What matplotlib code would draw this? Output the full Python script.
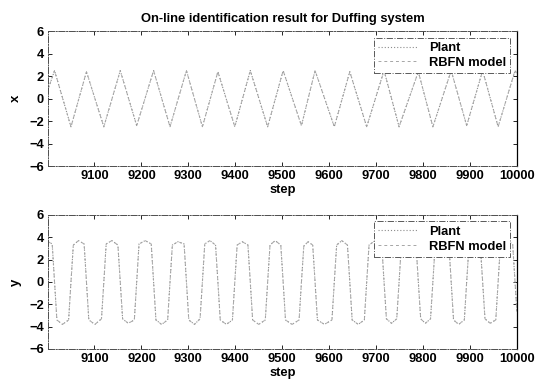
import matplotlib
matplotlib.use("Agg")
import matplotlib.pyplot as plt

plt.rcParams['font.family'] = ['Liberation Sans', 'DejaVu Sans']
plt.rcParams['font.weight'] = 'bold'
plt.rcParams['axes.titleweight'] = 'bold'
plt.rcParams['axes.labelweight'] = 'bold'

# turning points of the state x (steps and values)
x_steps = [9001,
           9015, 9050, 9083, 9120, 9155, 9190, 9226, 9261, 9296, 9330,
           9363, 9399, 9432, 9469, 9502, 9541, 9570, 9611, 9644, 9680,
           9717, 9749, 9790, 9821, 9860, 9893, 9927, 9960, 9996,
           10000]
x_plant = [0.8,
           2.5, -2.5, 2.4, -2.5, 2.5, -2.4, 2.5, -2.5, 2.5, -2.5,
           2.4, -2.5, 2.5, -2.5, 2.5, -2.4, 2.5, -2.5, 2.4, -2.5,
           2.5, -2.5, 2.4, -2.5, 2.5, -2.4, 2.5, -2.5, 2.5,
           2.2]
x_model = list(x_plant)

# corner points of the state y
y_steps = [9001, 9010, 9015,
           9020, 9032, 9045, 9050,
           9055, 9066, 9078, 9083,
           9088, 9101, 9115, 9120,
           9125, 9137, 9150, 9155,
           9160, 9172, 9185, 9190,
           9195, 9208, 9221, 9226,
           9231, 9243, 9256, 9261,
           9266, 9278, 9291, 9296,
           9301, 9313, 9325, 9330,
           9335, 9346, 9358, 9363,
           9368, 9381, 9394, 9399,
           9404, 9415, 9427, 9432,
           9437, 9450, 9464, 9469,
           9474, 9485, 9497, 9502,
           9507, 9521, 9536, 9541,
           9546, 9555, 9565, 9570,
           9575, 9590, 9606, 9611,
           9616, 9627, 9639, 9644,
           9649, 9662, 9675, 9680,
           9685, 9698, 9712, 9717,
           9722, 9733, 9744, 9749,
           9754, 9769, 9785, 9790,
           9795, 9805, 9816, 9821,
           9826, 9840, 9855, 9860,
           9865, 9876, 9888, 9893,
           9898, 9910, 9922, 9927,
           9932, 9943, 9955, 9960,
           9965, 9978, 9991, 9996,
           10000]
y_plant = [3.6, 3.4, 0.0,
           -3.4, -3.8, -3.4, 0.0,
           3.3, 3.7, 3.4, 0.0,
           -3.4, -3.8, -3.3, 0.0,
           3.4, 3.7, 3.3, 0.0,
           -3.3, -3.7, -3.4, 0.0,
           3.4, 3.7, 3.4, 0.0,
           -3.4, -3.8, -3.4, 0.0,
           3.3, 3.6, 3.4, 0.0,
           -3.4, -3.8, -3.3, 0.0,
           3.4, 3.7, 3.3, 0.0,
           -3.4, -3.8, -3.4, 0.0,
           3.3, 3.6, 3.3, 0.0,
           -3.4, -3.8, -3.4, 0.0,
           3.3, 3.7, 3.3, 0.0,
           -3.4, -3.8, -3.4, 0.0,
           3.2, 3.6, 3.3, 0.0,
           -3.4, -3.8, -3.4, 0.0,
           3.3, 3.7, 3.3, 0.0,
           -3.4, -3.8, -3.4, 0.0,
           3.3, 3.7, 3.4, 0.0,
           -3.3, -3.7, -3.3, 0.0,
           3.4, 3.7, 3.4, 0.0,
           -3.3, -3.7, -3.3, 0.0,
           3.4, 3.7, 3.4, 0.0,
           -3.4, -3.8, -3.4, 0.0,
           3.3, 3.7, 3.3, 0.0,
           -3.3, -3.7, -3.4, 0.0,
           3.4, 3.7, 3.4, 0.0,
           -2.7]
y_model = list(y_plant)

xticks = [9100, 9200, 9300, 9400, 9500, 9600, 9700, 9800, 9900, 10000]
yticks = [-6, -4, -2, 0, 2, 4, 6]
series_names = ['Plant', 'RBFN model']

fig = plt.figure(figsize=(5.39, 3.81), dpi=100)
ax1 = fig.add_axes([0.089, 0.564, 0.870, 0.354])
ax2 = fig.add_axes([0.089, 0.084, 0.870, 0.352])

panels = [(ax1, x_steps, x_plant, x_model, 'x'),
          (ax2, y_steps, y_plant, y_model, 'y')]

for ax, steps, plant, model, name in panels:
    ax.plot(steps, plant, color='0.55', lw=0.8, ls=(0, (1, 1.8)),
            label=series_names[0])
    ax.plot(steps, model, color='0.65', lw=0.7, ls=(0, (3, 3)),
            label=series_names[1])
    ax.set_xlim(9001, 10000)
    ax.set_ylim(-6, 6)
    ax.set_xticks(xticks)
    ax.set_yticks(yticks)
    ax.tick_params(direction='in', length=3, width=0.6, labelsize=9.3,
                   pad=3, top=True, right=True, colors='black')
    for side in ['top', 'left', 'bottom']:
        ax.spines[side].set_linestyle('-.')
        ax.spines[side].set_color('0.3')
        ax.spines[side].set_linewidth(0.7)
    ax.spines['right'].set_color('black')
    ax.spines['right'].set_linewidth(0.9)
    ax.set_xlabel('step', fontsize=9.3, labelpad=1)
    ax.set_ylabel(name, fontsize=9.5, labelpad=5)
    leg = ax.legend(loc='upper right', fontsize=9.3, handlelength=3.0,
                    borderaxespad=0.5, fancybox=False, framealpha=1,
                    labelspacing=0.2, borderpad=0.35, handletextpad=0.9)
    leg.get_frame().set_edgecolor('0.35')
    leg.get_frame().set_linestyle('-.')
    leg.get_frame().set_linewidth(0.7)

ax1.set_title('On-line identification result for Duffing system',
              fontsize=9.3, pad=7)

fig.savefig('out.png', dpi=100)
